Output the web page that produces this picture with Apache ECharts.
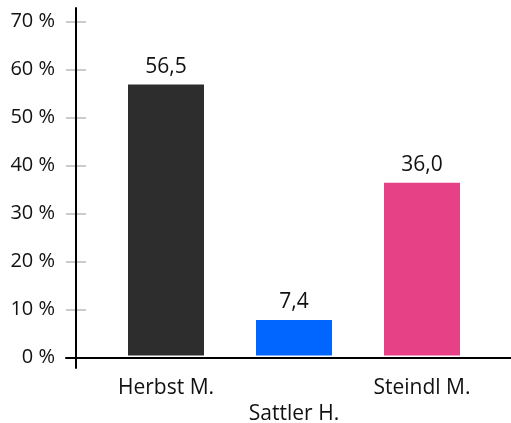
<!DOCTYPE html>
<html>
<head>
<meta charset="utf-8">
<script src="https://cdn.jsdelivr.net/npm/echarts@6/dist/echarts.min.js"></script>
<style>
html,body{margin:0;padding:0;background:#fff;}
#chart{width:511px;height:423px;}
</style>
</head>
<body>
<div id="chart"></div>
<script>
var categories = ['Herbst M.', 'Sattler H.', 'Steindl M.'];
var values = [56.5, 7.4, 36.0];
var barColors = ['#2d2d2d', '#0066ff', '#e64086'];
var yTicks = [0, 10, 20, 30, 40, 50, 60, 70];

var FONT = 'Open Sans';
var chart = echarts.init(document.getElementById('chart'), null, {renderer: 'canvas'});

var yMin = yTicks[0], yMax = yTicks[yTicks.length - 1];

var option = {
  backgroundColor: '#ffffff',
  animation: false,
  textStyle: {fontFamily: FONT},
  grid: [
    {left: 66, right: 0, top: 8, bottom: 55, containLabel: false, outerBoundsMode: 'none'},
    {left: 102, right: 25, top: 21.7, bottom: 65.3, containLabel: false, outerBoundsMode: 'none'},
    {left: 102, right: 25, top: 19.7, bottom: 67.6, containLabel: false, outerBoundsMode: 'none'}
  ],
  xAxis: [
    {
      gridIndex: 0, type: 'value', min: 0, max: 1, z: 10,
      axisLine: {show: true, onZero: true, lineStyle: {color: '#000', width: 2}},
      axisTick: {show: false}, axisLabel: {show: false}, splitLine: {show: false}
    },
    {
      gridIndex: 1, type: 'category', data: categories, show: false
    },
    {
      gridIndex: 2, type: 'category', data: categories,
      axisLine: {show: false}, axisTick: {show: false}, splitLine: {show: false},
      axisLabel: {
        interval: 0, margin: 20, color: '#111', fontFamily: FONT, fontSize: 21, lineHeight: 26,
        formatter: function (v, i) { return i % 2 === 1 ? '\n' + v : v; }
      }
    }
  ],
  yAxis: [
    {
      gridIndex: 0, type: 'value', min: -10, max: 350, position: 'left', offset: -10, z: 10,
      axisLine: {show: true, lineStyle: {color: '#000', width: 2}},
      axisTick: {show: false}, axisLabel: {show: false}, splitLine: {show: false}
    },
    {
      gridIndex: 1, type: 'value', min: yMin, max: yMax, interval: 10,
      position: 'left', offset: 26,
      axisLine: {show: false}, axisTick: {show: false}, splitLine: {show: false},
      axisLabel: {margin: 21, color: '#111', fontFamily: FONT, fontSize: 20, formatter: '{value} %'}
    },
    {
      gridIndex: 1, type: 'value', min: yMin, max: yMax, interval: 10,
      position: 'left', offset: 16,
      axisLine: {show: false},
      axisTick: {show: true, length: 20, lineStyle: {color: '#cccccc', width: 2}},
      axisLabel: {show: false}, splitLine: {show: false}
    },
    {
      gridIndex: 2, type: 'value', min: yMin, max: yMax, show: false
    }
  ],
  series: [
    {
      type: 'bar', xAxisIndex: 2, yAxisIndex: 3, barWidth: 76,
      data: values.map(function (v, i) { return {value: v, itemStyle: {color: barColors[i]}}; }),
      label: {
        show: true, position: 'top', distance: 7, color: '#111', fontFamily: FONT, fontSize: 21,
        formatter: function (p) { return p.value.toFixed(1).replace('.', ','); }
      }
    }
  ]
};
chart.setOption(option);
</script>
</body>
</html>
